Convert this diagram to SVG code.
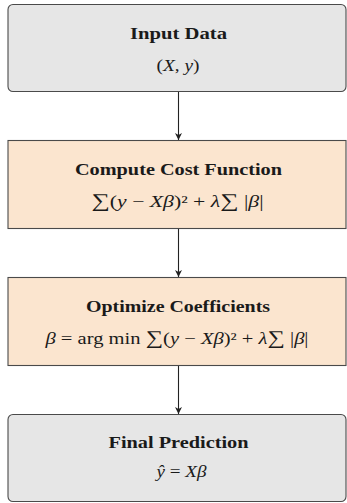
<svg xmlns="http://www.w3.org/2000/svg" width="347" height="503" viewBox="0 0 347 503">
  <defs>
    <marker id="arr" viewBox="0 0 10 10" refX="10" refY="5" markerWidth="7" markerHeight="7" markerUnits="userSpaceOnUse" orient="auto">
      <path d="M0,0 L10,5 L0,10 L3,5 Z" fill="#222"/>
    </marker>
    <style>
      .gray { fill: #e6e6e6; stroke: #4a4a4a; stroke-width: 1.1; }
      .orange { fill: #fbe5cf; stroke: #4a4a4a; stroke-width: 1.1; }
      .title { font-family: "Liberation Serif", "DejaVu Serif", serif; font-weight: bold; font-size: 17px; fill: #1a1a1a; text-anchor: middle; }
      .math { font-family: "Liberation Serif", "DejaVu Serif", serif; font-size: 16px; fill: #1a1a1a; text-anchor: middle; }
      .i { font-style: italic; }
      .sum { font-size: 19px; }
      .conn { stroke: #222; stroke-width: 1.1; fill: none; }
    </style>
  </defs>
  <rect width="347" height="503" fill="#ffffff"/>

  <g id="connectors">
    <line class="conn" x1="178.5" y1="91.5" x2="178.5" y2="140" marker-end="url(#arr)"/>
    <line class="conn" x1="178.5" y1="228.5" x2="178.5" y2="277" marker-end="url(#arr)"/>
    <line class="conn" x1="178.5" y1="365.5" x2="178.5" y2="414" marker-end="url(#arr)"/>
  </g>

  <g id="input-data">
    <rect class="gray" x="8" y="4.5" width="338" height="87" rx="5" ry="5"/>
    <text class="title" x="178.5" y="38.5" textLength="97" lengthAdjust="spacingAndGlyphs">Input Data</text>
    <text class="math" x="178" y="71" textLength="43" lengthAdjust="spacingAndGlyphs">(<tspan class="i">X</tspan>, <tspan class="i">y</tspan>)</text>
  </g>

  <g id="compute-cost">
    <rect class="orange" x="8" y="140.5" width="338" height="88"/>
    <text class="title" x="178.5" y="175" textLength="207" lengthAdjust="spacingAndGlyphs">Compute Cost Function</text>
    <text class="math" x="177.5" y="207" textLength="172" lengthAdjust="spacingAndGlyphs"><tspan class="sum">∑</tspan>(<tspan class="i">y</tspan> − <tspan class="i">Xβ</tspan>)² + <tspan class="i">λ</tspan><tspan class="sum">∑</tspan> |<tspan class="i">β</tspan>|</text>
  </g>

  <g id="optimize">
    <rect class="orange" x="8" y="277.5" width="338" height="88"/>
    <text class="title" x="178" y="312" textLength="184" lengthAdjust="spacingAndGlyphs">Optimize Coefficients</text>
    <text class="math" x="177" y="344" textLength="263" lengthAdjust="spacingAndGlyphs"><tspan class="i">β</tspan> = arg min <tspan class="sum">∑</tspan>(<tspan class="i">y</tspan> − <tspan class="i">Xβ</tspan>)² + <tspan class="i">λ</tspan><tspan class="sum">∑</tspan> |<tspan class="i">β</tspan>|</text>
  </g>

  <g id="final-prediction">
    <rect class="gray" x="8" y="414.5" width="338" height="87" rx="5" ry="5"/>
    <text class="title" x="178.5" y="448" textLength="140" lengthAdjust="spacingAndGlyphs">Final Prediction</text>
    <text class="math" x="181.5" y="477" textLength="50" lengthAdjust="spacingAndGlyphs"><tspan class="i">ŷ</tspan> = <tspan class="i">Xβ</tspan></text>
  </g>
</svg>
